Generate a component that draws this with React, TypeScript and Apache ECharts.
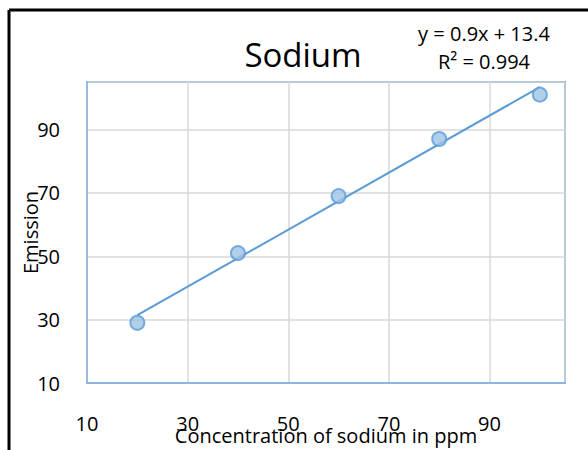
import React, { useEffect, useRef } from "react";
import * as echarts from "echarts";

const xValues = [20, 40, 60, 80, 100];
const yValues = [29, 51, 69, 87, 101];
const slope = 0.9;
const intercept = 13.4;
const rSquared = 0.994;
const axisMin = 10;
const axisMax = 105;
const axisInterval = 20;
const titleText = "Sodium";
const xAxisTitle = "Concentration of sodium in ppm";
const yAxisTitle = "Emission";

const FONT = "'Open Sans', sans-serif";

export default function App() {
  const ref = useRef<HTMLDivElement>(null);
  useEffect(() => {
    if (!ref.current) return;
    const chart = echarts.init(ref.current, null, { renderer: "svg" });
    const points = xValues.map((x, i) => [x, yValues[i]]);
    const trendX = [xValues[0], xValues[xValues.length - 1]];
    const trend = trendX.map((x) => [x, slope * x + intercept]);
    const axisCommon = {
      type: "value",
      min: axisMin,
      max: axisMax,
      interval: axisInterval,
      axisTick: { show: false },
      splitLine: { show: true, lineStyle: { color: "#D9D9D9", width: 1.5 } },
      nameLocation: "middle",
      nameMoveOverlap: false,
      nameTextStyle: { fontFamily: FONT, fontSize: 20, color: "#000", lineHeight: 20 },
    };
    chart.setOption({
      animation: false,
      backgroundColor: "#fff",
      title: {
        text: titleText,
        left: 303,
        top: 35,
        textAlign: "center",
        padding: 0,
        textStyle: { fontFamily: FONT, fontSize: 33, fontWeight: "normal", color: "#000", lineHeight: 38 },
      },
      grid: {
        left: 87,
        right: 23,
        top: 82,
        bottom: 67,
        show: true,
        borderColor: "#5B9BD5",
        borderWidth: 2,
        containLabel: false,
        outerBoundsMode: "none",
      },
      xAxis: {
        ...axisCommon,
        name: xAxisTitle,
        nameGap: 42,
        axisLine: { show: true, lineStyle: { color: "#8EB4E3", width: 2 } },
        axisLabel: {
          fontFamily: FONT,
          fontSize: 20,
          color: "#000",
          margin: 30,
          lineHeight: 20,
          showMaxLabel: false,
        },
      },
      yAxis: {
        ...axisCommon,
        name: yAxisTitle,
        nameGap: 47,
        axisLine: { show: true, lineStyle: { color: "#9DB9DC", width: 2 } },
        axisLabel: {
          fontFamily: FONT,
          fontSize: 20,
          color: "#000",
          margin: 27,
          showMaxLabel: false,
        },
      },
      graphic: [
        {
          type: "line",
          shape: { x1: 9, y1: 10, x2: 600, y2: 10 },
          style: { stroke: "#000", lineWidth: 3 },
        },
        {
          type: "line",
          shape: { x1: 9, y1: 10, x2: 9, y2: 460 },
          style: { stroke: "#000", lineWidth: 3 },
        },
        {
          type: "text",
          x: 484,
          y: 47,
          style: {
            text: `y = ${slope}x + ${intercept}\nR² = ${rSquared}`,
            align: "center",
            verticalAlign: "middle",
            fontFamily: FONT,
            fontSize: 20,
            lineHeight: 28,
            fill: "#000",
          },
        },
      ],
      series: [
        {
          type: "line",
          data: trend,
          symbol: "none",
          lineStyle: { color: "#5B9BD5", width: 2 },
          z: 2,
        },
        {
          type: "scatter",
          data: points,
          symbol: "circle",
          symbolSize: 14,
          itemStyle: { color: "#9DC3E6", borderColor: "#5B9BD5", borderWidth: 2 },
          z: 3,
        },
      ],
    });
    return () => chart.dispose();
  }, []);
  return (
    <div
      ref={ref}
      style={{ position: "absolute", left: 0, top: 0, width: 588, height: 450, background: "#fff" }}
    />
  );
}
